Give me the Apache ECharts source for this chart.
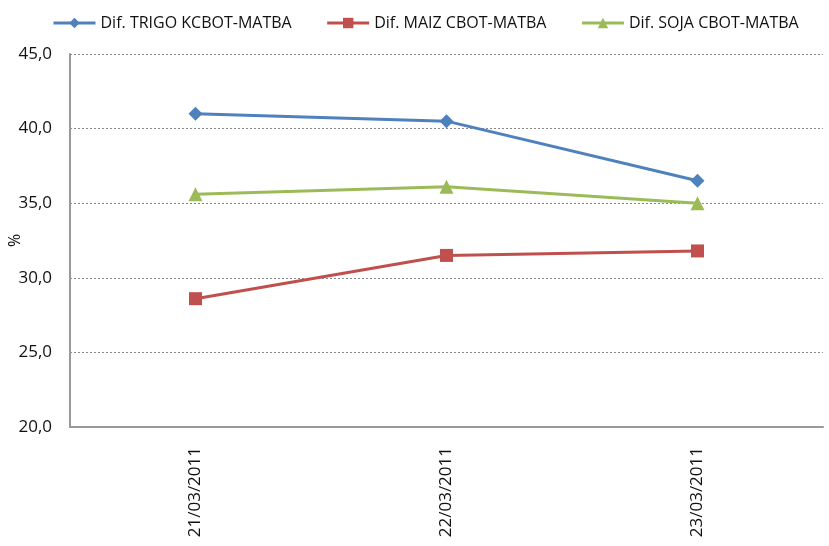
<!DOCTYPE html>
<html>
<head>
<meta charset="utf-8">
<script src="https://cdn.jsdelivr.net/npm/echarts@6/dist/echarts.min.js"></script>
<style>
  html, body { margin: 0; padding: 0; background: #fff; }
  #main { width: 829px; height: 546px; }
</style>
</head>
<body>
<div id="main"></div>
<script>
// fechas
var fechas = ['21/03/2011', '22/03/2011', '23/03/2011'];
// series (%)
var trigo = [41.0, 40.5, 36.5];
var maiz = [28.6, 31.5, 31.8];
var soja = [35.6, 36.1, 35.0];

var fuente = '"Open Sans", "Liberation Sans", sans-serif';

var chart = echarts.init(document.getElementById('main'));

chart.setOption({
  animation: false,
  backgroundColor: '#fff',
  textStyle: { fontFamily: fuente },
  legend: {
    top: 10,
    left: 47,
    itemWidth: 42,
    itemHeight: 13,
    itemGap: 34,
    lineStyle: { width: 3 },
    textStyle: { fontSize: 16, color: '#111', fontFamily: fuente },
    data: ['Dif. TRIGO KCBOT-MATBA', 'Dif. MAIZ CBOT-MATBA', 'Dif. SOJA CBOT-MATBA']
  },
  grid: { left: 70, right: 6, top: 54, bottom: 119, containLabel: false, outerBoundsMode: 'none' },
  xAxis: {
    type: 'category',
    data: fechas,
    boundaryGap: true,
    axisLine: { lineStyle: { color: '#999', width: 2 } },
    axisTick: { show: false },
    axisLabel: { rotate: 90, margin: 20, fontSize: 17, color: '#111', fontFamily: fuente }
  },
  yAxis: {
    type: 'value',
    min: 20, max: 45, interval: 5,
    name: '%',
    nameLocation: 'middle',
    nameRotate: 90,
    nameGap: 47,
    nameMoveOverlap: false,
    nameTextStyle: { fontSize: 16, color: '#111' },
    axisLine: { show: true, lineStyle: { color: '#999', width: 2 } },
    axisTick: { show: false },
    splitLine: { lineStyle: { color: '#888', type: [2, 2], width: 1 } },
    axisLabel: {
      margin: 18, fontSize: 17, color: '#111', fontFamily: fuente,
      formatter: function (v) { return v.toFixed(1).replace('.', ','); }
    }
  },
  series: [{
    name: 'Dif. TRIGO KCBOT-MATBA',
    type: 'line',
    data: trigo,
    symbol: 'diamond',
    symbolSize: 14,
    lineStyle: { width: 3, color: '#4F81BD' },
    itemStyle: { color: '#4F81BD' }
  }, {
    name: 'Dif. MAIZ CBOT-MATBA',
    type: 'line',
    data: maiz,
    symbol: 'rect',
    symbolSize: 13,
    lineStyle: { width: 3, color: '#C0504D' },
    itemStyle: { color: '#C0504D' }
  }, {
    name: 'Dif. SOJA CBOT-MATBA',
    type: 'line',
    data: soja,
    symbol: 'triangle',
    symbolSize: 14,
    lineStyle: { width: 3, color: '#9BBB59' },
    itemStyle: { color: '#9BBB59' }
  }]
});
</script>
</body>
</html>
